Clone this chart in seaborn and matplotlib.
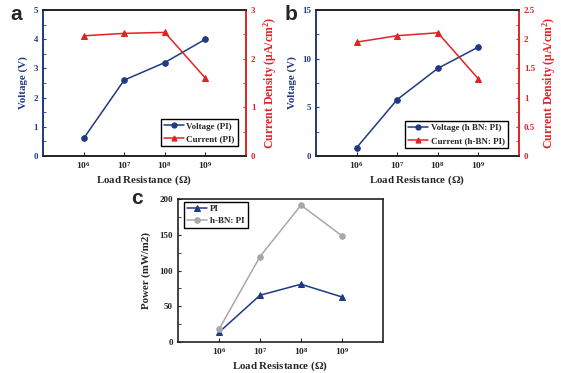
import numpy as np
import pandas as pd
import matplotlib
matplotlib.use('Agg')
import matplotlib.pyplot as plt
from matplotlib.ticker import AutoMinorLocator, FixedLocator, NullLocator
from matplotlib.lines import Line2D
import seaborn as sns

sns.set_style('ticks')
plt.rcParams['font.family'] = ['Liberation Serif', 'DejaVu Serif']
plt.rcParams['font.weight'] = 'bold'
plt.rcParams['axes.labelweight'] = 'bold'
plt.rcParams['mathtext.fontset'] = 'custom'
plt.rcParams['mathtext.rm'] = 'Liberation Serif:bold'
plt.rcParams['mathtext.it'] = 'Liberation Serif:italic:bold'
plt.rcParams['mathtext.bf'] = 'Liberation Serif:bold'

# data
resistencia = [1e6, 1e7, 1e8, 1e9]
rotulos_x = [r'$10^{6}$', r'$10^{7}$', r'$10^{8}$', r'$10^{9}$']

tensao_pi = [0.6, 2.6, 3.2, 4.0]
corrente_pi = [2.47, 2.52, 2.54, 1.6]

tensao_hbn = [0.85, 5.8, 9.0, 11.2]
corrente_hbn = [1.95, 2.06, 2.11, 1.32]

potencia_pi = [13.6, 65.4, 80.8, 63.0]
potencia_hbn = [17.8, 119.5, 191.4, 148.5]

AZUL = '#1f3a84'
VERMELHO = '#e02424'
CINZA = '#a8a8a8'
XLABEL = r'Load Resistance ($\mathit{\Omega}$)'


def estilo_eixo_x(ax):
    ax.set_xscale('log')
    ax.set_xlim(1e5, 1e10)
    ax.xaxis.set_major_locator(FixedLocator(resistencia))
    ax.xaxis.set_minor_locator(NullLocator())
    ax.set_xticklabels(rotulos_x)
    ax.tick_params(axis='x', direction='in', length=3, labelsize=6.8, pad=3)
    ax.set_xlabel(XLABEL, fontsize=7.8, labelpad=1.5)


def painel_duplo(fig, rect, tensao, corrente, ylim_v, yticks_v, ylim_c, yticks_c,
                 leg_v, leg_c, legend_anchor):
    ax = fig.add_axes(rect)
    sns.lineplot(x=resistencia, y=tensao, ax=ax, color=AZUL, marker='o', markersize=4,
                 markeredgecolor=AZUL, linewidth=1.1)
    ax2 = ax.twinx()
    sns.lineplot(x=resistencia, y=corrente, ax=ax2, color=VERMELHO, marker='^', markersize=4,
                 markeredgecolor=VERMELHO, linewidth=1.1)
    estilo_eixo_x(ax)
    ax.set_ylim(*ylim_v)
    ax.set_yticks(yticks_v)
    ax.yaxis.set_minor_locator(AutoMinorLocator(2))
    ax.tick_params(axis='y', which='both', direction='in', colors=AZUL, labelsize=6.5, length=2)
    ax.set_ylabel('Voltage (V)', color=AZUL, fontsize=7.8, labelpad=4)
    ax2.set_ylim(*ylim_c)
    ax2.set_yticks(yticks_c)
    ax2.yaxis.set_minor_locator(AutoMinorLocator(2))
    ax2.tick_params(axis='y', which='both', direction='in', colors=VERMELHO, labelsize=6.5, length=2)
    ax2.set_ylabel(r'Current Density (μA/cm$^{2}$)', color=VERMELHO, fontsize=8.5, labelpad=4)
    ax2.set_yticklabels([f'{t:g}' for t in yticks_c])
    ax.set_yticklabels([f'{t:g}' for t in yticks_v])
    for a in (ax, ax2):
        for s in a.spines.values():
            s.set_linewidth(1.2)
            s.set_color('#222222')
            s.set_visible(True)
    ax.spines['left'].set_color(AZUL)
    ax2.spines['left'].set_color(AZUL)
    ax2.spines['right'].set_color(VERMELHO)
    ax.spines['right'].set_color(VERMELHO)
    handles = [Line2D([], [], color=AZUL, marker='o', markersize=3.5, linewidth=1.1),
               Line2D([], [], color=VERMELHO, marker='^', markersize=3.5, linewidth=1.1)]
    leg = ax2.legend(handles, [leg_v, leg_c], loc='lower right', bbox_to_anchor=legend_anchor,
                     fontsize=6.5, fancybox=False, edgecolor='black', framealpha=1,
                     handlelength=2.2, borderpad=0.35, labelspacing=0.45, handletextpad=0.3,
                     borderaxespad=0)
    leg.get_frame().set_linewidth(1.0)
    return ax


W, H = 561, 373
fig = plt.figure(figsize=(W / 100, H / 100), dpi=100)

painel_duplo(fig, [43 / W, 1 - 156 / H, 203 / W, 146 / H], tensao_pi, corrente_pi,
             (0, 5), [0, 1, 2, 3, 4, 5], (0, 3), [0, 1, 2, 3],
             'Voltage (PI)', 'Current (PI)', (0.96, 0.068))
painel_duplo(fig, [316 / W, 1 - 156 / H, 203 / W, 146 / H], tensao_hbn, corrente_hbn,
             (0, 15), [0, 5, 10, 15], (0, 2.5), [0, 0.5, 1, 1.5, 2, 2.5],
             'Voltage (h BN: PI)', 'Current (h-BN: PI)', (0.946, 0.055))

# painel c
axc = fig.add_axes([178 / W, 1 - 342 / H, 205 / W, 143 / H])
sns.lineplot(x=resistencia, y=potencia_pi, ax=axc, color=AZUL, marker='^', markersize=4,
             markeredgecolor=AZUL, linewidth=1.1, label='PI')
sns.lineplot(x=resistencia, y=potencia_hbn, ax=axc, color=CINZA, marker='o', markersize=4,
             markeredgecolor=CINZA, linewidth=1.1, label='h-BN: PI')
estilo_eixo_x(axc)
axc.set_ylim(0, 200)
axc.set_yticks([0, 50, 100, 150, 200])
axc.yaxis.set_minor_locator(AutoMinorLocator(2))
axc.tick_params(axis='y', which='both', direction='in', colors='#222222', labelsize=6.5, length=2)
axc.set_ylabel('Power (mW/m2)', fontsize=7.8, labelpad=6)
for s in axc.spines.values():
    s.set_linewidth(1.2)
    s.set_color('#222222')
    s.set_visible(True)
legc = axc.legend(loc='upper left', bbox_to_anchor=(0.03, 0.98), fontsize=6.5, fancybox=False,
                  edgecolor='black', framealpha=1, handlelength=2.2, borderpad=0.35,
                  labelspacing=0.4, handletextpad=0.3, borderaxespad=0)
legc.get_frame().set_linewidth(1.0)

# letras dos paineis
fig.text(10 / W, 1 - 14 / H, 'a', fontsize=15, fontweight='bold', family='Liberation Sans', va='center')
fig.text(285 / W, 1 - 14 / H, 'b', fontsize=15, fontweight='bold', family='Liberation Sans', va='center')
fig.text(131 / W, 1 - 199 / H, 'c', fontsize=15, fontweight='bold', family='Liberation Sans', va='center')

fig.savefig('out.png', dpi=100, facecolor='white')
